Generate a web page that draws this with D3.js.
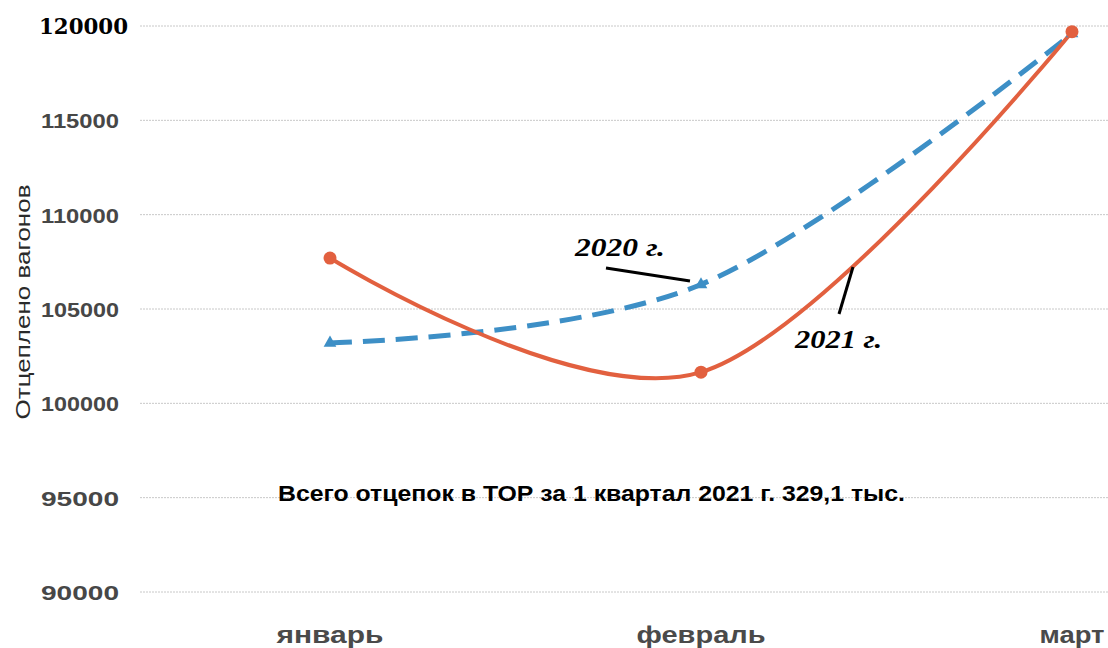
<!DOCTYPE html>
<html>
<head>
<meta charset="utf-8">
<script src="https://cdn.jsdelivr.net/npm/d3@7"></script>
<style>
  body { margin: 0; background: #fff; }
  svg { display: block; }
</style>
</head>
<body>
<div id="chart"></div>
<script>
// Chart data
const months = ['январь', 'февраль', 'март'];
const values2020 = [103200, 106300, 119600];
const values2021 = [107700, 101650, 119700];
const yTicks = [90000, 95000, 100000, 105000, 110000, 115000, 120000];

const width = 1108;
const height = 648;

const svg = d3.select('#chart')
    .append('svg')
    .attr('width', width)
    .attr('height', height);

// Scales
const x = d3.scalePoint()
    .domain(months)
    .range([330, 1072]);

const y = d3.scaleLinear()
    .domain([90000, 120000])
    .range([592, 26]);

// Gridlines
svg.append('g')
    .selectAll('line')
    .data(yTicks)
    .enter().append('line')
    .attr('x1', 140)
    .attr('x2', width)
    .attr('y1', d => y(d))
    .attr('y2', d => y(d))
    .style('stroke', '#c8c8c8')
    .style('stroke-width', 1)
    .style('stroke-dasharray', '2,1');

// Y axis labels
const yAxis = svg.append('g')
    .attr('transform', 'translate(119,0)')
    .call(d3.axisLeft(y).tickValues(yTicks).tickSize(0).tickPadding(0).tickFormat(d3.format('d')));
yAxis.select('.domain').remove();
yAxis.selectAll('text')
    .attr('textLength', 78)
    .attr('lengthAdjust', 'spacingAndGlyphs')
    .style('font-family', 'Liberation Sans, Arial, sans-serif')
    .style('font-weight', 'bold')
    .style('font-size', '21px')
    .style('fill', '#474747')
    .attr('dy', '0.35em');
yAxis.selectAll('.tick')
    .filter(d => d === 120000)
    .select('text')
    .attr('textLength', 89)
    .attr('x', 9)
    .style('font-family', 'DejaVu Serif, serif')
    .style('font-size', '22px')
    .style('fill', '#000');

// Y axis title
svg.append('text')
    .attr('transform', 'translate(30,302) rotate(-90)')
    .attr('textLength', 235)
    .attr('lengthAdjust', 'spacingAndGlyphs')
    .style('text-anchor', 'middle')
    .style('font-family', 'Liberation Sans, Arial, sans-serif')
    .style('font-size', '21px')
    .style('fill', '#2a2a2a')
    .text('Отцеплено вагонов');

// X axis labels
const monthWidths = [107, 129, 65];
svg.append('g')
    .selectAll('text')
    .data(months)
    .enter().append('text')
    .attr('x', (d, i) => x(d) - monthWidths[i] / 2)
    .attr('y', 643)
    .attr('textLength', (d, i) => monthWidths[i])
    .attr('lengthAdjust', 'spacingAndGlyphs')
    .style('font-family', 'Liberation Sans, Arial, sans-serif')
    .style('font-weight', 'bold')
    .style('font-size', '24px')
    .style('fill', '#4a4a4a')
    .text(d => d);

// Lines
const line = d3.line()
    .x((d, i) => x(months[i]))
    .y(d => y(d))
    .curve(d3.curveCardinal.tension(0));

svg.append('path')
    .datum(values2020)
    .attr('d', line)
    .style('fill', 'none')
    .style('stroke', '#3d8fc6')
    .style('stroke-width', 5)
    .style('stroke-dasharray', '22,11');

svg.append('path')
    .datum(values2021)
    .attr('d', line)
    .style('fill', 'none')
    .style('stroke', '#e2603f')
    .style('stroke-width', 4);

// Markers
svg.append('g')
    .selectAll('path')
    .data(values2020)
    .enter().append('path')
    .attr('transform', (d, i) => `translate(${x(months[i])},${y(d)})`)
    .attr('d', d3.symbol().type(d3.symbolTriangle).size(70))
    .style('fill', '#3d8fc6');

svg.append('g')
    .selectAll('circle')
    .data(values2021)
    .enter().append('circle')
    .attr('cx', (d, i) => x(months[i]))
    .attr('cy', d => y(d))
    .attr('r', 6.5)
    .style('fill', '#e2603f');

// Annotations
const annot = svg.append('g');
annot.append('text')
    .attr('x', 575)
    .attr('y', 256)
    .attr('textLength', 90)
    .attr('lengthAdjust', 'spacingAndGlyphs')
    .style('font-family', 'Liberation Serif, Times New Roman, serif')
    .style('font-style', 'italic')
    .style('font-weight', 'bold')
    .style('font-size', '25px')
    .text('2020 г.');
annot.append('line')
    .attr('x1', 606).attr('y1', 268)
    .attr('x2', 690).attr('y2', 281)
    .style('stroke', '#000')
    .style('stroke-width', 3);

annot.append('text')
    .attr('x', 795)
    .attr('y', 348)
    .attr('textLength', 87)
    .attr('lengthAdjust', 'spacingAndGlyphs')
    .style('font-family', 'Liberation Serif, Times New Roman, serif')
    .style('font-style', 'italic')
    .style('font-weight', 'bold')
    .style('font-size', '25px')
    .text('2021 г.');
annot.append('line')
    .attr('x1', 853).attr('y1', 267)
    .attr('x2', 839).attr('y2', 314)
    .style('stroke', '#000')
    .style('stroke-width', 3);

// Footer note
svg.append('text')
    .attr('x', 278)
    .attr('y', 501)
    .attr('textLength', 627)
    .attr('lengthAdjust', 'spacingAndGlyphs')
    .style('font-family', 'Liberation Sans Narrow, Liberation Sans, sans-serif')
    .style('font-weight', 'bold')
    .style('font-size', '22px')
    .style('fill', '#000')
    .text('Всего отцепок в ТОР за 1 квартал 2021 г. 329,1 тыс.');
</script>
</body>
</html>
